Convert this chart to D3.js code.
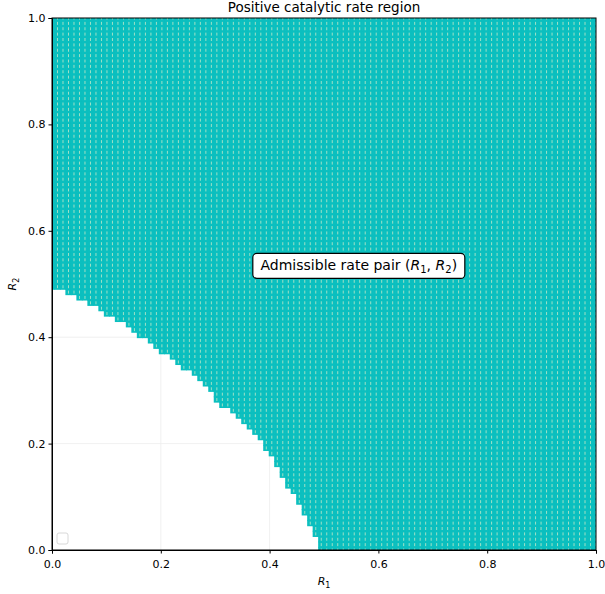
<!DOCTYPE html>
<html>
<head>
<meta charset="utf-8">
<script src="https://cdn.jsdelivr.net/npm/d3@7"></script>
<style>
  body { margin: 0; background: #fff; }
  text { font-family: "DejaVu Sans", sans-serif; }
</style>
</head>
<body>
<div id="chart"></div>
<script>
// grid of rate pairs, 100 x 100 on [0,1]
const nGrid = 100;
// lowest admissible R2 row index for each R1 column (0..49)
const minRow = [49, 49, 49, 48, 48, 47, 47, 46, 46, 45,
                44, 44, 43, 43, 42, 41, 40, 40, 39, 38,
                37, 37, 36, 35, 34, 34, 33, 32, 31, 30,
                28, 27, 27, 26, 25, 24, 23, 22, 21, 19,
                18, 16, 14, 12, 11, 9, 7, 5, 3, 0];
const xTicks = [0, 0.2, 0.4, 0.6, 0.8, 1.0];
const yTicks = [0, 0.2, 0.4, 0.6, 0.8, 1.0];
const titleText = 'Positive catalytic rate region';

const W = 605, H = 594;
const margin = {top: 18, right: 9, bottom: 44, left: 52};
const width = W - margin.left - margin.right;
const height = H - margin.top - margin.bottom;

const svg = d3.select('#chart').append('svg')
  .attr('width', W).attr('height', H);

const x = d3.scaleLinear().domain([0, 1]).range([margin.left, margin.left + width]);
const y = d3.scaleLinear().domain([0, 1]).range([margin.top + height, margin.top]);

svg.append('clipPath').attr('id', 'plotclip')
  .append('rect').attr('x', margin.left).attr('y', margin.top)
  .attr('width', width).attr('height', height);

// faint grid
const grid = svg.append('g').attr('stroke', '#ececec').attr('stroke-width', 0.8);
grid.selectAll('.gx').data(xTicks.slice(1, -1)).enter().append('line')
  .attr('x1', d => x(d)).attr('x2', d => x(d))
  .attr('y1', margin.top).attr('y2', margin.top + height);
grid.selectAll('.gy').data(yTicks.slice(1, -1)).enter().append('line')
  .attr('y1', d => y(d)).attr('y2', d => y(d))
  .attr('x1', margin.left).attr('x2', margin.left + width);

// admissible points
let pts = [];
for (let i = 0; i < nGrid; i++) {
  let lo = i < minRow.length ? minRow[i] : 0;
  for (let j = lo; j < nGrid; j++) {
    pts.push([i / (nGrid - 1), j / (nGrid - 1)]);
  }
}
const s = 6.2;
const pg = svg.append('g').attr('clip-path', 'url(#plotclip)');
pg.selectAll('rect.pt').data(pts).enter().append('rect')
  .attr('class', 'pt')
  .attr('x', d => x(d[0]) - s / 2).attr('y', d => y(d[1]) - s / 2)
  .attr('width', s).attr('height', s)
  .attr('fill', '#0bbfbf');
pg.selectAll('rect.tk').data(pts).enter().append('rect')
  .attr('class', 'tk')
  .attr('x', d => x(d[0]) - 0.5).attr('y', d => y(d[1]) - 1.5)
  .attr('width', 1).attr('height', 3)
  .attr('fill', '#c4e8c8').attr('opacity', 0.8);

// axes
const xAxis = d3.axisBottom(x).tickValues(xTicks).tickFormat(d3.format('.1f')).tickSizeOuter(0).tickSize(3.5);
const yAxis = d3.axisLeft(y).tickValues(yTicks).tickFormat(d3.format('.1f')).tickSizeOuter(0).tickSize(3.5);
const gx = svg.append('g').attr('transform', 'translate(0,' + (margin.top + height) + ')').call(xAxis);
const gy = svg.append('g').attr('transform', 'translate(' + margin.left + ',0)').call(yAxis);
[gx, gy].forEach(g => {
  g.selectAll('text').attr('font-size', 11).attr('fill', '#000')
    .style('font-family', '"DejaVu Sans", sans-serif');
  g.selectAll('line').attr('stroke', '#000');
  g.select('.domain').attr('stroke', '#000');
});
gx.selectAll('text').attr('dy', '1.0em');

// frame
svg.append('rect').attr('x', margin.left).attr('y', margin.top)
  .attr('width', width).attr('height', height)
  .attr('fill', 'none').attr('stroke', '#000').attr('stroke-width', 1);

// title
svg.append('text').attr('x', margin.left + width / 2).attr('y', 12)
  .attr('text-anchor', 'middle').attr('font-size', 13.5).text(titleText);

// axis labels
const xl = svg.append('text').attr('x', margin.left + width / 2).attr('y', 585)
  .attr('text-anchor', 'middle').attr('font-size', 11);
xl.append('tspan').attr('font-style', 'italic').text('R');
xl.append('tspan').attr('font-size', 8).attr('dy', 3).text('1');

const yl = svg.append('text').attr('transform', 'translate(16,' + (margin.top + height / 2) + ') rotate(-90)')
  .attr('text-anchor', 'middle').attr('font-size', 11);
yl.append('tspan').attr('font-style', 'italic').text('R');
yl.append('tspan').attr('font-size', 8).attr('dy', 3).text('2');

// annotation box
const ax = x(0.564), ay = y(0.535);
svg.append('rect').attr('x', ax - 106).attr('y', ay - 12)
  .attr('width', 212).attr('height', 25).attr('rx', 4)
  .attr('fill', '#fff').attr('stroke', '#000').attr('stroke-width', 1.2);
const at = svg.append('text').attr('x', ax).attr('y', ay + 5)
  .attr('text-anchor', 'middle').attr('font-size', 14);
at.append('tspan').text('Admissible rate pair (');
at.append('tspan').attr('font-style', 'italic').text('R');
at.append('tspan').attr('font-size', 10).attr('dy', 3).text('1');
at.append('tspan').attr('dy', -3).text(', ');
at.append('tspan').attr('font-style', 'italic').text('R');
at.append('tspan').attr('font-size', 10).attr('dy', 3).text('2');
at.append('tspan').attr('dy', -3).text(')');

// empty legend
svg.append('rect').attr('x', 57).attr('y', 533).attr('width', 11).attr('height', 11)
  .attr('rx', 2).attr('fill', '#fff').attr('stroke', '#d8d8d8').attr('stroke-width', 1);
</script>
</body>
</html>
